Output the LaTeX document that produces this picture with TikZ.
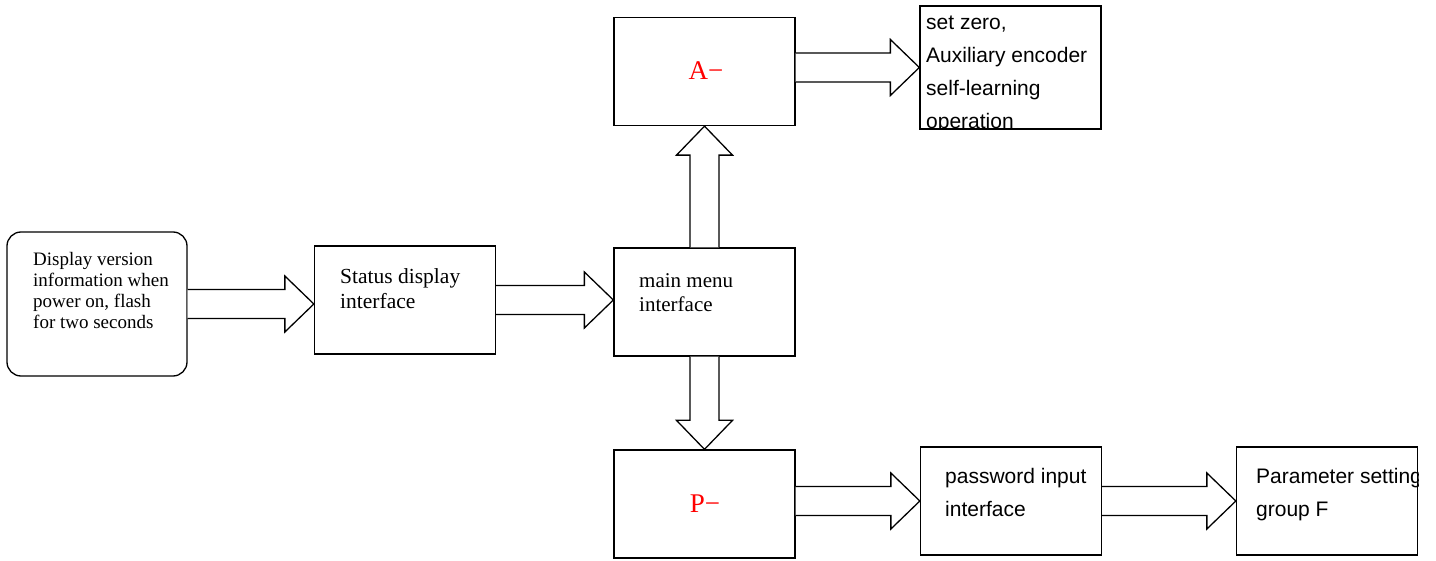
\documentclass[tikz,border=0pt]{standalone}
\usepackage{fontspec}
\setmainfont{Liberation Serif}
\newfontfamily\sansfnt{Liberation Sans}
\usetikzlibrary{calc}
\tikzset{
    box/.style = {rectangle, draw=black, line width=1.3pt, minimum width=181pt, minimum height=108pt, inner sep=0pt},
    rbox/.style = {box, rounded corners=14pt, minimum width=180pt, minimum height=144pt},
    txt/.style = {anchor=north west, align=left, inner sep=0pt},
    stxt/.style = {txt, font=\sansfnt\fontsize{21}{33}\selectfont},
    redtxt/.style = {inner sep=0pt, text=red, font=\fontsize{27}{27}\selectfont},
    fatarrow/.style = {draw=black, line width=1.3pt, fill=white, line join=miter},
}
% hollow block arrow from #1 to tip #2
\newcommand{\fatarrow}[2]{%
  \coordinate (head) at ($(#2)!29pt!(#1)$);
  \draw[fatarrow] ($(#1)!14.5pt!90:(#2)$) -- ($(head)!14.5pt!90:(#2)$)
    -- ($(head)!28pt!90:(#2)$) -- (#2) -- ($(head)!28pt!-90:(#2)$)
    -- ($(head)!14.5pt!-90:(#2)$) -- ($(#1)!14.5pt!-90:(#2)$);
}
\begin{document}
\begin{tikzpicture}[x=1pt, y=-1pt]
\useasboundingbox (0,0) rectangle (1436,561);

\node[rbox] at (97, 304) (disp) {};
\node[box] at (405, 300) (status) {};
\node[box] at (704.5, 302) (mainmenu) {};
\node[box] at (704.5, 71.5) (amenu) {};
\node[box, minimum height=123pt] at (1010.5, 67.5) (setzero) {};
\node[box] at (704.5, 504) (pmenu) {};
\node[box] at (1011, 501) (passwd) {};
\node[box] at (1327, 501) (param) {};
%
\node[txt, font=\fontsize{19}{21}\selectfont] at (33, 252) (disptext)
  {Display version\\information when\\power on, flash\\for two seconds};
\node[txt, font=\fontsize{21.5}{25}\selectfont] at (340, 268) (statustext)
  {Status display\\interface};
\node[txt, font=\fontsize{21}{24}\selectfont] at (639, 273) (maintext)
  {main menu\\interface};
\node[redtxt] at (706, 71) (atext) {A−};
\node[redtxt] at (705, 504) (ptext) {P−};
\begin{scope}
  \clip (setzero.south west) rectangle (setzero.north east);
  \node[stxt] at (926, 16) (setzerotext)
    {set zero,\\Auxiliary encoder\\self-learning\\operation};
\end{scope}
\node[stxt] at (945, 468) (passwdtext) {password input\\interface};
\begin{scope}
  \clip (param.south west) rectangle (param.north east);
  \node[stxt] at (1256, 468) (paramtext) {Parameter setting\\group F};
\end{scope}
%
\fatarrow{disp.east}{disp.east -| status.west}
\fatarrow{status.east}{status.east -| mainmenu.west}
\fatarrow{mainmenu.north}{mainmenu.north |- amenu.south}
\fatarrow{mainmenu.south}{mainmenu.south |- pmenu.north}
\fatarrow{amenu.east |- setzero.west}{setzero.west}
\fatarrow{pmenu.east |- passwd.west}{passwd.west}
\fatarrow{passwd.east}{param.west}

\end{tikzpicture}
\end{document}
